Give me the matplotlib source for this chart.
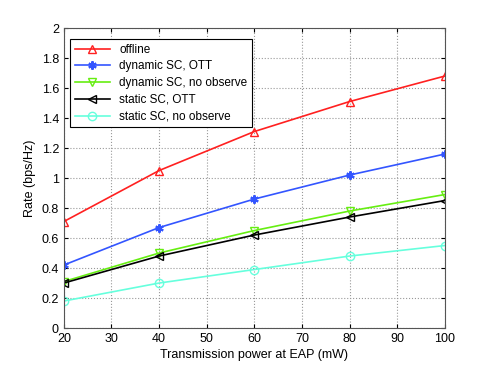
import matplotlib
matplotlib.use("Agg")
import matplotlib.pyplot as plt

x = [20, 40, 60, 80, 100]
offline = [0.71, 1.05, 1.31, 1.51, 1.68]
dyn_ott = [0.42, 0.67, 0.86, 1.02, 1.16]
dyn_noobs = [0.31, 0.50, 0.65, 0.78, 0.89]
sta_ott = [0.30, 0.48, 0.62, 0.74, 0.85]
sta_noobs = [0.18, 0.30, 0.39, 0.48, 0.55]
labels = ["offline", "dynamic SC, OTT", "dynamic SC, no observe", "static SC, OTT", "static SC, no observe"]

plt.rcParams['font.family'] = ['Liberation Sans', 'DejaVu Sans']
fig = plt.figure(figsize=(4.91, 3.69), dpi=100)
ax = fig.add_axes([0.13, 0.111, 0.776, 0.813])

ms = 6
ax.plot(x, offline, '-', color='#ff2020', marker='^', mfc='none', ms=ms, lw=1.2, label=labels[0])
ax.plot(x, dyn_ott, '-', color='#3355ff', marker=(6, 2, 0), ms=6, mew=1.5, lw=1.2, label=labels[1])
ax.plot(x, dyn_noobs, '-', color='#66ee11', marker='v', mfc='none', ms=ms, lw=1.2, label=labels[2])
ax.plot(x, sta_ott, '-', color='black', marker='<', mfc='none', ms=ms, lw=1.2, label=labels[3])
ax.plot(x, sta_noobs, '-', color='#66ffdd', marker='o', mfc='none', ms=ms, lw=1.2, label=labels[4])

ax.set_xlim(20, 100)
ax.set_ylim(0, 2)
ax.set_xticks(range(20, 101, 10))
ax.set_yticks([0, 0.2, 0.4, 0.6, 0.8, 1, 1.2, 1.4, 1.6, 1.8, 2])
ax.set_yticklabels(['0', '0.2', '0.4', '0.6', '0.8', '1', '1.2', '1.4', '1.6', '1.8', '2'])
ax.grid(True, linestyle=':', color='#999999', lw=0.8)
ax.tick_params(labelsize=9, direction='in', length=3, top=True, right=True)
for s in ax.spines.values():
    s.set_color('#555555')
ax.set_xlabel('Transmission power at EAP (mW)', fontsize=9, labelpad=3)
ax.set_ylabel('Rate (bps/Hz)', fontsize=9, labelpad=4)
leg = ax.legend(loc='upper left', bbox_to_anchor=(6/381, 1 - 11/300), borderaxespad=0,
                fontsize=8.5, fancybox=False, edgecolor='black',
                framealpha=1, handlelength=3, labelspacing=0.4)
leg.get_frame().set_linewidth(0.8)

fig.savefig('out.png', dpi=100)
